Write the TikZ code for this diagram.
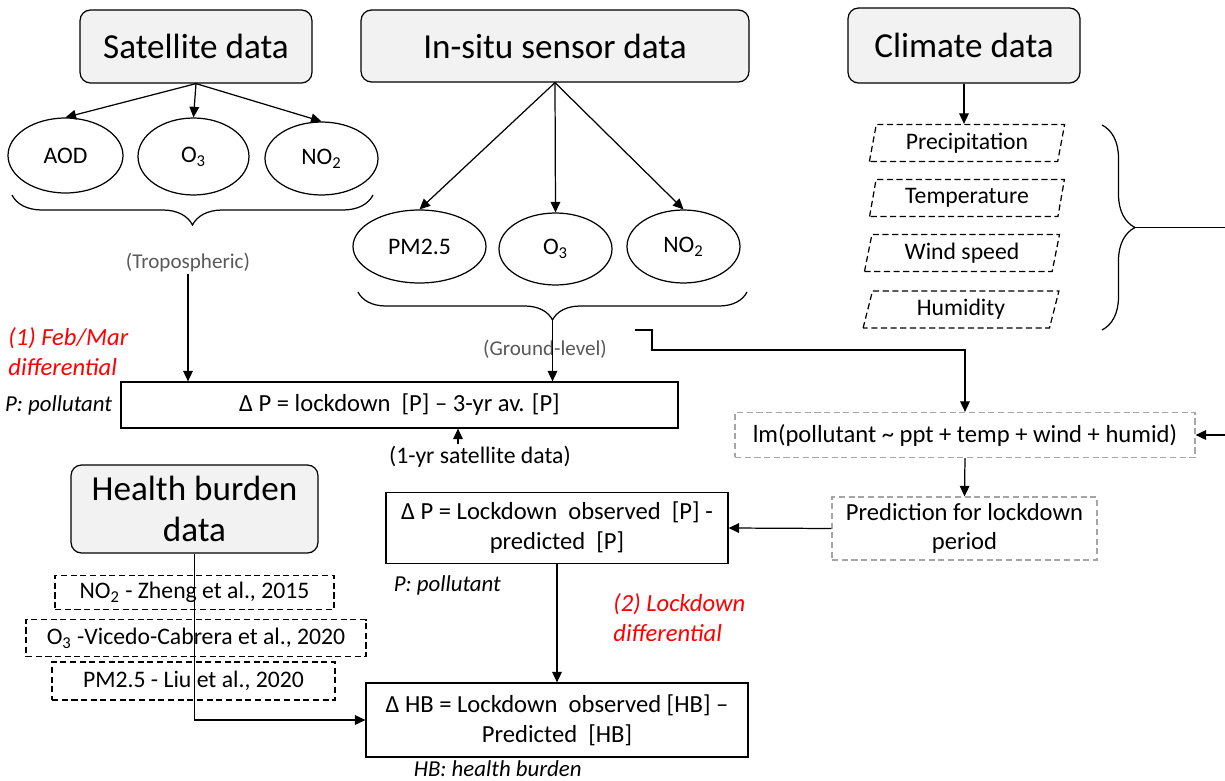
\documentclass[tikz,border=0pt]{standalone}
\usepackage{fontspec}
\setmainfont{Carlito}
\usepackage{tikz}
\usepackage{xcolor}
\usetikzlibrary{positioning,shapes.geometric,arrows.meta,decorations.pathreplacing}
\definecolor{ltfill}{HTML}{f2f2f2}
\definecolor{lblgray}{HTML}{595959}
\definecolor{dashgray}{HTML}{a6a6a6}
\definecolor{notered}{HTML}{ff0000}

\begin{document}
\begin{tikzpicture}[x=0.02cm, y=-0.02cm, line width=0.7pt,
		srcbox/.style={draw, rounded corners=6pt, fill=ltfill, inner sep=0pt, font=\fontsize{20}{23}\selectfont},
		pollu/.style={draw, ellipse, inner sep=0pt, font=\fontsize{13.5}{16}\selectfont},
		climbox/.style={draw, trapezium, trapezium left angle=77, trapezium right angle=103, trapezium stretches=true, dash pattern=on 3.5pt off 2pt, inner sep=0pt, minimum width=3.92cm, minimum height=0.74cm, font=\fontsize{13.5}{16}\selectfont},
		diffbox/.style={draw, align=center, inner sep=0pt, font=\fontsize{14}{17}\selectfont},
		lmbox/.style={draw=dashgray, dash pattern=on 3.5pt off 2pt, align=center, inner sep=0pt, font=\fontsize{14}{17}\selectfont},
		refbox/.style={draw, dash pattern=on 3.5pt off 2pt, inner sep=0pt, font=\fontsize{13.5}{16}\selectfont},
		note/.style={inner sep=1pt, font=\fontsize{13}{16}\selectfont\itshape},
		rednote/.style={inner sep=1pt, text=notered, align=left, font=\fontsize{14}{17}\selectfont\itshape},
		arr/.style={-{Triangle[length=6pt,width=5.5pt]}},
		brc/.style={decorate}]
		\useasboundingbox (0,0) rectangle (1225,781);

		% data sources
		\node[srcbox, minimum width=4.64cm, minimum height=1.46cm] (sat) at (196,46.5) {Satellite data};
		\node[srcbox, minimum width=7.76cm, minimum height=1.44cm] (insitu) at (555,46) {In-situ sensor data};
		\node[srcbox, minimum width=4.64cm, minimum height=1.5cm] (clim) at (964,45.5) {Climate data};
		\node[srcbox, align=center, minimum width=4.94cm, minimum height=1.76cm] (hbd) at (194.5,509) {Health burden\\data};

		% satellite pollutants
		\node[pollu, minimum width=2.3cm, minimum height=1.5cm] (aod) at (65.5,155.5) {AOD};
		\node[pollu, minimum width=2.22cm, minimum height=1.54cm] (so3) at (193.5,156.5) {O\textsubscript{3}};
		\node[pollu, minimum width=2.26cm, minimum height=1.46cm] (sno2) at (321.5,158.5) {NO\textsubscript{2}};
		\draw[arr] (sat.south) -- (aod.north);
		\draw[arr] (sat.south) -- (so3.north);
		\draw[arr] (sat.south) -- (sno2.north);
		\draw[brc, decoration={brace, mirror, amplitude=0.6cm}] (12,195) -- (373,195);
		\node[inner sep=1pt, text=lblgray, font=\fontsize{12}{14}\selectfont] (trop) at (188,262) {(Tropospheric)};

		% ground-level pollutants
		\node[pollu, minimum width=2.66cm, minimum height=1.46cm] (pm) at (419.5,246.5) {PM2.5};
		\node[pollu, minimum width=2.26cm, minimum height=1.44cm] (go3) at (555.5,249) {O\textsubscript{3}};
		\node[pollu, minimum width=2.26cm, minimum height=1.46cm] (gno2) at (683.5,246.5) {NO\textsubscript{2}};
		\draw[arr] (insitu.south) -- (pm.north);
		\draw[arr] (insitu.south) -- (go3.north);
		\draw[arr] (insitu.south) -- (gno2.north);
		\draw[brc, decoration={brace, mirror, amplitude=0.56cm}] (358,292) -- (747,292);
		\coordinate (gtip) at (552.5,320);
		\coordinate (gstep) at (635,330);
		\node[inner sep=1pt, text=lblgray, font=\fontsize{12}{14}\selectfont] (gl) at (545,349) {(Ground-level)};

		% climate variables
		\node[climbox] (prec) at (967,143) {Precipitation};
		\node[climbox] (temp) at (967,198) {Temperature};
		\node[climbox] (wind) at (962,253) {Wind speed};
		\node[climbox] (humid) at (961,309.5) {Humidity};
		\draw[arr] (clim.south) -- (clim.south |- prec.north);
		\draw[brc, decoration={brace, amplitude=0.66cm}] (1102,125) -- (1102,330);
		\coordinate (ctip) at (1135,227.5);
		\coordinate (cout) at (1225,227.5);
		\draw (ctip) -- (cout);

		% (1) Feb/Mar differential
		\node[diffbox, minimum width=11.14cm, minimum height=0.92cm] (dp1) at (399.5,405) {Δ P = lockdown\ \ [P] – 3-yr av. [P]};
		\node[note, left=0.12cm of dp1] (pp1) {P: pollutant};
		\node[rednote, anchor=west] (n1) at (6,352) {(1) Feb/Mar\\differential};
		\node[inner sep=1pt, font=\fontsize{13.5}{16}\selectfont] (yr) at (480,457) {(1-yr satellite data)};
		\draw[arr] (trop.south) -- (trop.south |- dp1.north);
		\draw[arr] (gtip) -- (gtip |- dp1.north);
		\draw[arr] ([xshift=-0.44cm]yr.north) -- ([xshift=-0.44cm]yr.north |- dp1.south);

		% model and (2) Lockdown differential
		\node[lmbox, minimum width=9.2cm, minimum height=0.9cm] (lm) at (965,435) {lm(pollutant \textasciitilde{} ppt + temp + wind + humid)};
		\node[lmbox, minimum width=5.3cm, minimum height=1.26cm] (pred) at (964.5,528.5) {Prediction for lockdown\\period};
		\node[diffbox, minimum width=6.84cm, minimum height=1.42cm] (dp2) at (557,528) {Δ P = Lockdown\ \ observed\ \ [P] -\\predicted\ \ [P]};
		\node[note, anchor=north west] (pp2) at ([xshift=0.12cm,yshift=-0.18cm]dp2.south west) {P: pollutant};
		\node[rednote, anchor=west] (n2) at (611,618) {(2) Lockdown\\differential};
		\node[diffbox, minimum width=7.64cm, minimum height=1.48cm] (dhb) at (557,720) {Δ HB = Lockdown\ \ observed [HB] –\\Predicted\ \ [HB]};
		\node[note, anchor=north west] (hbn) at ([xshift=0.92cm,yshift=-0.02cm]dhb.south west) {HB: health burden};
		\coordinate (lmin) at (1225,435);
		\draw[arr] (gstep) -- (652,330) -- (652,350) -| (lm.north);
		\draw[arr] (lmin) -- (lm.east);
		\draw[arr] (lm.south) -- (pred.north);
		\draw[arr] (pred.west) -- (dp2.east);
		\draw[arr] (dp2.south) -- (dhb.north);

		% health burden references
		\node[refbox, minimum width=5.58cm, minimum height=0.68cm] (rno2) at (194.5,592.5) {NO\textsubscript{2} - Zheng et al., 2015};
		\node[refbox, minimum width=6.8cm, minimum height=0.74cm] (ro3) at (196,638) {O\textsubscript{3} -Vicedo-Cabrera et al., 2020};
		\node[refbox, minimum width=5.66cm, minimum height=0.76cm] (rpm) at (193.5,681) {PM2.5 - Liu et al., 2020};
		\draw[arr] (hbd.south) |- (dhb.west);
\end{tikzpicture}
\end{document}
